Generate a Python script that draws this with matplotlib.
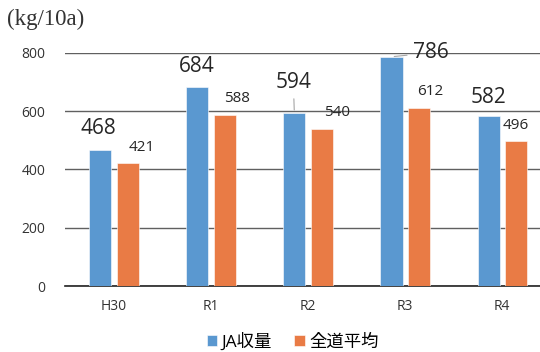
"""収量比較チャート"""
import matplotlib
matplotlib.use('Agg')
import matplotlib.pyplot as plt
import numpy as np

plt.rcParams['font.family'] = ['Open Sans', 'Noto Sans CJK JP', 'DejaVu Sans']

# データ
years = ['H30', 'R1', 'R2', 'R3', 'R4']
ja_yield = [468, 684, 594, 786, 582]
hokkaido_avg = [421, 588, 540, 612, 496]
series_names = ['JA収量', '全道平均']

blue = '#5A98D0'
orange = '#E97B45'

fig = plt.figure(figsize=(5.4, 3.52), dpi=100)
ax = fig.add_axes([65 / 540, 66 / 352, 475 / 540, 233.3 / 352])

x = np.arange(len(years))
w = 0.227
b1 = ax.bar(x - 0.139, ja_yield, w, color=blue, edgecolor='white', linewidth=0.4,
            label=series_names[0], zorder=3)
b2 = ax.bar(x + 0.144, hokkaido_avg, w, color=orange, edgecolor='white', linewidth=0.4,
            label=series_names[1], zorder=3)

ax.set_xlim(-0.5, 4.39)
ax.set_ylim(0, 800)
ax.set_yticks([0, 200, 400, 600, 800])
ax.set_xticks(x)
ax.set_xticklabels(years)
ax.tick_params(axis='both', length=0, labelsize=10, colors='#333333')
ax.tick_params(axis='y', pad=14)
ax.tick_params(axis='x', pad=9)
ax.grid(axis='y', color='#606060', linewidth=1, zorder=0)
for s in ['top', 'right', 'left']:
    ax.spines[s].set_visible(False)
ax.spines['bottom'].set_color('#222222')
ax.spines['bottom'].set_linewidth(1.2)

# データラベル (オフセットはピクセル)
blue_off = [(-2, 21), (0, 20), (-1, 30), (39, 4), (0, 19)]
orange_off = [(14, 16), (12, 16), (15, 16), (11, 16), (0, 16)]
for i, v in enumerate(ja_yield):
    lead = i in (2, 3)
    ax.annotate(str(v), xy=(x[i] - 0.139, v), xytext=blue_off[i],
                textcoords='offset pixels', ha='center', va='center',
                fontsize=15, color='#262626', annotation_clip=False,
                arrowprops=dict(arrowstyle='-', color='#a6a6a6', lw=0.8,
                                shrinkA=2, shrinkB=2) if lead else None)
for i, v in enumerate(hokkaido_avg):
    ax.annotate(str(v), xy=(x[i] + 0.144, v), xytext=orange_off[i],
                textcoords='offset pixels', ha='center', va='center',
                fontsize=11, color='#262626', annotation_clip=False)

fig.text(7 / 540, 1 - 19 / 352, '(kg/10a)', family='Liberation Serif',
         fontsize=16.5, ha='left', va='center', color='#333333')

ax.legend(loc='lower center', bbox_to_anchor=(0.5 - 10 / 475, -0.345), ncol=2,
          frameon=False, fontsize=12.5, handlelength=0.6, handleheight=0.6,
          handletextpad=0.25, columnspacing=1.3)

plt.savefig('out.png', dpi=100)
plt.close()
